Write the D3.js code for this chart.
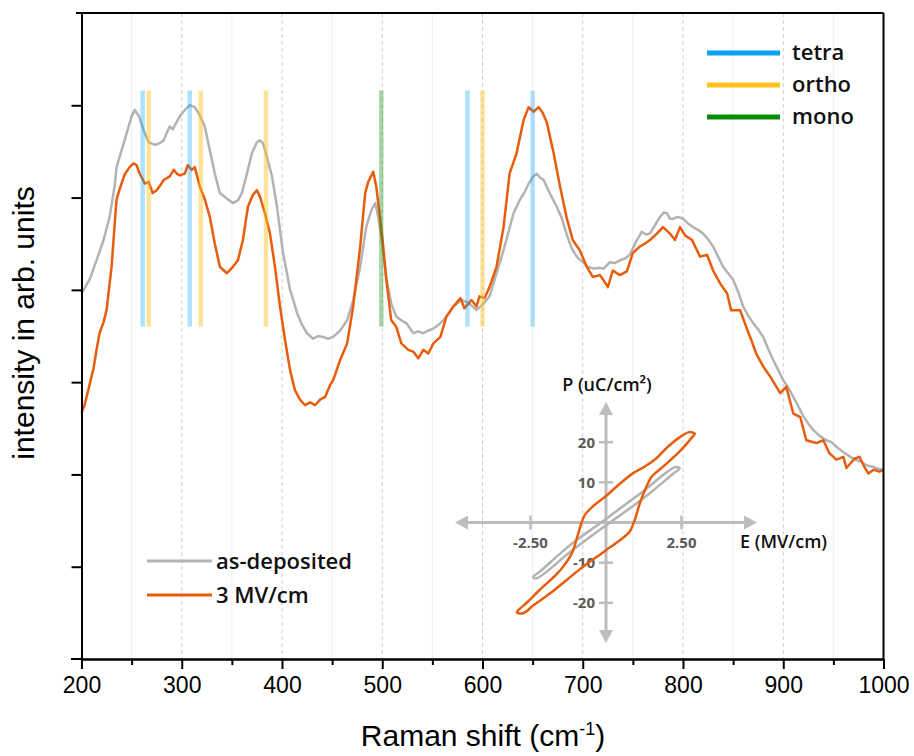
<!DOCTYPE html>
<meta charset="utf-8">
<style>
  body { margin: 0; background: #fff; }
  svg { display: block; }
  .axis path, .axis line { stroke: #000; stroke-width: 2px; }
  .axis text { font: 23px "Liberation Sans", Arial, sans-serif; fill: #000; }
  .title { font: 30px "Liberation Sans", Arial, sans-serif; fill: #000; }
  .legend text { font: 600 22px "Open Sans", sans-serif; fill: #111; }
  .inset text { font: 700 15px "Open Sans", sans-serif; fill: #5a5a5a; }
  .inset .name { font: 600 18px "Open Sans", sans-serif; fill: #111; }
  .curve { fill: none; stroke-width: 2.5px; stroke-linejoin: round; }
</style>
<svg width="914" height="756"></svg>
<script src="https://cdn.jsdelivr.net/npm/d3@7"></script>
<script>
  // Raman spectra: [shift cm-1, intensity a.u.]
  const asDeposited = [
    [200,3.96],[208,4.11],[215,4.32],[222,4.54],[228,4.79],[233,5.12],[235,5.33],[238,5.44],[243,5.62],[247,5.77],
    [250,5.88],[253,5.95],[257,5.89],[262,5.73],[267,5.60],[273,5.57],[278,5.59],[282,5.62],[285,5.70],[288,5.77],
    [291,5.74],[295,5.82],[298,5.88],[303,5.95],[308,6.00],[313,5.98],[318,5.89],[323,5.77],[328,5.51],[333,5.26],
    [338,5.05],[345,4.99],[351,4.94],[356,4.97],[360,5.05],[365,5.26],[370,5.48],[375,5.60],[378,5.62],[381,5.59],
    [385,5.44],[390,5.23],[395,4.90],[398,4.65],[401,4.40],[405,4.18],[408,4.00],[411,3.90],[415,3.75],[420,3.62],
    [425,3.53],[431,3.47],[436,3.50],[441,3.49],[446,3.47],[451,3.49],[458,3.56],[465,3.67],[471,3.89],[478,4.25],
    [484,4.68],[489,4.86],[493,4.94],[496,4.79],[499,4.58],[504,4.14],[509,3.85],[514,3.71],[519,3.67],[524,3.64],
    [531,3.53],[536,3.55],[541,3.53],[546,3.56],[551,3.58],[556,3.62],[561,3.67],[566,3.74],[571,3.82],[579,3.89],
    [584,3.87],[588,3.84],[594,3.78],[601,3.85],[607,3.93],[614,4.18],[621,4.43],[626,4.63],[631,4.83],[637,4.97],
    [642,5.06],[646,5.15],[650,5.22],[654,5.26],[657,5.22],[661,5.19],[667,5.05],[674,4.90],[679,4.78],[684,4.60],
    [689,4.45],[694,4.36],[700,4.30],[705,4.25],[711,4.23],[716,4.24],[721,4.23],[727,4.30],[732,4.29],[737,4.32],
    [742,4.34],[747,4.38],[753,4.52],[759,4.63],[763,4.60],[767,4.61],[772,4.70],[777,4.79],[781,4.84],[784,4.83],
    [787,4.77],[790,4.77],[795,4.79],[800,4.77],[805,4.72],[810,4.68],[815,4.65],[820,4.61],[825,4.55],[830,4.47],
    [835,4.36],[840,4.25],[845,4.18],[850,4.11],[855,3.98],[860,3.82],[865,3.72],[870,3.64],[875,3.57],[880,3.49],
    [885,3.36],[890,3.24],[895,3.13],[900,3.02],[905,2.94],[910,2.84],[915,2.74],[920,2.63],[925,2.55],[930,2.48],
    [936,2.42],[943,2.37],[948,2.35],[953,2.30],[960,2.24],[967,2.19],[972,2.16],[977,2.14],[983,2.10],[990,2.08],
    [995,2.06],[1000,2.05]
  ];
  const poled3MV = [
    [200,2.67],[203,2.75],[208,2.97],[212,3.15],[215,3.35],[218,3.53],[222,3.65],[225,3.78],[230,4.25],[233,4.70],
    [235,4.98],[238,5.09],[243,5.25],[248,5.33],[252,5.37],[255,5.35],[258,5.26],[261,5.20],[263,5.15],[267,5.17],
    [271,5.05],[275,5.08],[279,5.14],[282,5.19],[285,5.21],[288,5.23],[292,5.30],[295,5.26],[298,5.24],[303,5.26],
    [306,5.35],[310,5.30],[313,5.33],[318,5.12],[323,4.98],[328,4.79],[333,4.50],[338,4.25],[345,4.18],[351,4.25],
    [356,4.32],[361,4.54],[366,4.90],[371,5.03],[375,5.08],[378,5.01],[383,4.83],[388,4.61],[393,4.25],[398,3.82],
    [403,3.46],[408,3.13],[413,2.91],[418,2.81],[423,2.75],[428,2.78],[433,2.75],[438,2.81],[443,2.84],[448,2.97],
    [451,3.02],[458,3.24],[465,3.42],[471,3.82],[478,4.47],[483,5.05],[486,5.17],[491,5.28],[494,5.12],[498,4.76],
    [501,4.47],[504,4.11],[509,3.67],[514,3.60],[519,3.42],[526,3.35],[531,3.33],[536,3.26],[541,3.35],[546,3.31],
    [551,3.42],[558,3.49],[564,3.71],[571,3.82],[578,3.91],[582,3.80],[589,3.89],[594,3.82],[597,3.93],[602,3.91],
    [607,4.03],[614,4.25],[621,4.68],[627,5.26],[634,5.48],[641,5.84],[646,5.98],[651,5.93],[656,5.98],[660,5.92],
    [664,5.82],[671,5.48],[677,5.14],[684,4.78],[690,4.54],[697,4.43],[704,4.25],[710,4.14],[717,4.16],[721,4.10],
    [725,4.03],[730,4.21],[737,4.16],[744,4.20],[750,4.40],[757,4.47],[762,4.50],[767,4.54],[774,4.61],[780,4.68],
    [787,4.61],[792,4.54],[797,4.68],[802,4.59],[809,4.54],[817,4.36],[824,4.38],[830,4.21],[837,4.07],[844,3.96],
    [848,3.78],[857,3.78],[863,3.60],[868,3.46],[873,3.31],[880,3.17],[887,3.06],[897,2.88],[903,2.95],[910,2.66],
    [917,2.62],[923,2.37],[933,2.34],[940,2.37],[946,2.23],[953,2.16],[960,2.19],[963,2.07],[971,2.17],[976,2.19],
    [981,2.08],[985,2.01],[990,2.05],[996,2.03],[1000,2.05]
  ];

  // phase reference positions (cm-1)
  const tetraPos = [261, 308, 585, 650];
  const orthoPos = [267, 319, 384, 600];
  const monoPos = [499];
  const markerSpan = [3.6, 6.16];

  const xTicks = [200, 300, 400, 500, 600, 700, 800, 900, 1000];
  const xMinorTicks = [250, 350, 450, 550, 650, 750, 850, 950];
  const yTicks = [1, 2, 3, 4, 5, 6];

  // P-E hysteresis loops: [E MV/cm, P uC/cm2]
  const loopAsDep = [
    [2.44,13.5],[2.3,13.8],[1.2,7.6],[0,0.9],[-1.2,-5.7],[-2.2,-12.3],[-2.42,-13.6],
    [-2.3,-13.9],[-1.2,-7.4],[0,-0.7],[1.2,5.8],[2.2,12.0]
  ];
  const loop3MV = [
    [2.94,22.1],[2.75,22.5],[2.4,21.0],[2.0,18.5],[1.67,16.0],[1.3,14.0],[0.9,12.3],[0.45,9.6],[0,6.6],
    [-0.42,4.1],[-0.7,1.9],[-0.82,-0.3],[-0.95,-3.5],[-1.12,-7.5],[-1.35,-10.3],[-1.65,-13.0],[-2.2,-16.8],
    [-2.6,-19.8],[-2.9,-21.8],[-2.95,-22.4],[-2.75,-22.6],[-2.4,-20.6],[-1.86,-17.7],[-1.3,-14.3],[-0.76,-11.0],
    [-0.35,-8.8],[0,-6.9],[0.46,-4.4],[0.78,-2.3],[0.95,0.6],[1.12,4.8],[1.34,8.9],[1.51,11.4],[1.89,13.9],
    [2.44,17.7],[2.85,21.2]
  ];
  const pTicks = [-20, -10, 10, 20];
  const eTicks = [-2.5, 2.5];

  const colors = { gray: "#b3b3b3", orange: "#e85d0c", tetra: "#05a3f5", ortho: "#ffc21c", mono: "#0a8c0a" };

  const svg = d3.select("svg");
  const x = d3.scaleLinear([200, 1000], [81.5, 883.5]);
  const y = d3.scaleLinear([0, 7], [659, 13]);

  // grid
  svg.append("g").selectAll("line").data(xMinorTicks).join("line")
    .attr("x1", d => x(d)).attr("x2", d => x(d)).attr("y1", y(7)).attr("y2", y(0))
    .attr("stroke", "#eeeeee").attr("stroke-width", 1);
  svg.append("g").selectAll("line").data(xTicks.slice(1, -1)).join("line")
    .attr("x1", d => x(d)).attr("x2", d => x(d)).attr("y1", y(7)).attr("y2", y(0))
    .attr("stroke", "#cfcfcf").attr("stroke-width", 1).attr("stroke-dasharray", "4,3");

  // spectra
  const line = d3.line().x(d => x(d[0])).y(d => y(d[1]));
  svg.append("path").datum(asDeposited).attr("class", "curve").attr("stroke", colors.gray).attr("d", line);
  svg.append("path").datum(poled3MV).attr("class", "curve").attr("stroke", colors.orange).attr("d", line);

  // phase markers
  const markers = [
    ...tetraPos.map(p => ({ p, c: colors.tetra, o: 0.32 })),
    ...orthoPos.map(p => ({ p, c: colors.ortho, o: 0.45 })),
    ...monoPos.map(p => ({ p, c: colors.mono, o: 0.35 }))
  ];
  svg.append("g").selectAll("line").data(markers).join("line")
    .attr("x1", d => x(d.p)).attr("x2", d => x(d.p))
    .attr("y1", y(markerSpan[1])).attr("y2", y(markerSpan[0]))
    .attr("stroke", d => d.c).attr("stroke-opacity", d => d.o).attr("stroke-width", 4.5);

  // axes
  svg.append("g").attr("class", "axis").attr("transform", "translate(0," + y(0) + ")")
    .call(d3.axisBottom(x).tickValues(xMinorTicks).tickSize(6).tickSizeOuter(0).tickFormat(""));
  svg.append("g").attr("class", "axis").attr("transform", "translate(0," + y(0) + ")")
    .call(d3.axisBottom(x).tickValues(xTicks).tickSize(10).tickSizeOuter(0).tickPadding(8).tickFormat(d3.format("d")));
  svg.append("g").attr("class", "axis").attr("transform", "translate(" + x(200) + ",0)")
    .call(d3.axisLeft(y).tickValues(yTicks).tickSize(10).tickSizeOuter(0).tickFormat(""));
  // frame
  const frame = svg.append("g").attr("stroke", "#000").attr("stroke-width", 2);
  frame.append("line").attr("x1", 76).attr("x2", x(1000)).attr("y1", y(7)).attr("y2", y(7));
  frame.append("line").attr("x1", x(1000)).attr("x2", x(1000)).attr("y1", y(7)).attr("y2", y(0));
  frame.append("line").attr("x1", 71).attr("x2", x(200)).attr("y1", y(0)).attr("y2", y(0));

  svg.append("text").attr("class", "title").attr("x", 483).attr("y", 746).attr("text-anchor", "middle")
    .html('Raman shift (cm<tspan dy="-11" font-size="18">-1</tspan><tspan dy="11">)</tspan>');
  svg.append("text").attr("class", "title").attr("text-anchor", "middle")
    .attr("transform", "translate(34,323) rotate(-90)").text("intensity in arb. units");

  // phase legend
  const phaseLeg = svg.append("g").attr("class", "legend");
  [["tetra", colors.tetra], ["ortho", colors.ortho], ["mono", colors.mono]].forEach((d, i) => {
    const yy = 53 + i * 32;
    phaseLeg.append("line").attr("x1", 707).attr("x2", 780).attr("y1", yy).attr("y2", yy)
      .attr("stroke", d[1]).attr("stroke-width", 5);
    phaseLeg.append("text").attr("x", 792).attr("y", yy + 7).text(d[0]);
  });

  // series legend
  const serLeg = svg.append("g").attr("class", "legend");
  [["as-deposited", colors.gray], ["3 MV/cm", colors.orange]].forEach((d, i) => {
    const yy = 561 + i * 34;
    serLeg.append("line").attr("x1", 147).attr("x2", 212).attr("y1", yy).attr("y2", yy)
      .attr("stroke", d[1]).attr("stroke-width", 3);
    serLeg.append("text").attr("x", 216).attr("y", yy + 8).text(d[0]);
  });

  // inset P-E loop
  const inset = svg.append("g").attr("class", "inset");
  const ex = d3.scaleLinear([-5, 5], [455, 757]);
  const py = d3.scaleLinear([-30, 30], [643, 402]);
  const axCol = "#bdbdbd";
  inset.append("line").attr("x1", ex(-5) + 8).attr("x2", ex(5) - 8).attr("y1", py(0)).attr("y2", py(0))
    .attr("stroke", axCol).attr("stroke-width", 3);
  inset.append("line").attr("x1", ex(0)).attr("x2", ex(0)).attr("y1", py(30) + 8).attr("y2", py(-30) - 8)
    .attr("stroke", axCol).attr("stroke-width", 3);
  const ah = 13, aw = 7;
  const arrows = [
    [[ex(5), py(0)], [ex(5) - ah, py(0) - aw], [ex(5) - ah, py(0) + aw]],
    [[ex(-5), py(0)], [ex(-5) + ah, py(0) - aw], [ex(-5) + ah, py(0) + aw]],
    [[ex(0), py(30)], [ex(0) - aw, py(30) + ah], [ex(0) + aw, py(30) + ah]],
    [[ex(0), py(-30)], [ex(0) - aw, py(-30) - ah], [ex(0) + aw, py(-30) - ah]]
  ];
  inset.selectAll("path.arrow").data(arrows).join("path").attr("class", "arrow")
    .attr("d", d => "M" + d.join("L") + "Z").attr("fill", axCol);
  inset.selectAll("line.pt").data(pTicks).join("line").attr("class", "pt")
    .attr("x1", ex(0) - 7).attr("x2", ex(0) + 7).attr("y1", d => py(d)).attr("y2", d => py(d))
    .attr("stroke", axCol).attr("stroke-width", 2.5);
  inset.selectAll("line.et").data(eTicks).join("line").attr("class", "et")
    .attr("y1", py(0) - 7).attr("y2", py(0) + 7).attr("x1", d => ex(d)).attr("x2", d => ex(d))
    .attr("stroke", axCol).attr("stroke-width", 2.5);
  inset.selectAll("text.pl").data(pTicks).join("text").attr("class", "pl")
    .attr("x", ex(0) - 11).attr("y", d => py(d) + 5.5).attr("text-anchor", "end").text(d => d);
  inset.selectAll("text.el").data(eTicks).join("text").attr("class", "el")
    .attr("x", d => ex(d)).attr("y", py(0) + 25).attr("text-anchor", "middle")
    .text(d => d.toFixed(2));

  const loopLine = d3.line().x(d => ex(d[0])).y(d => py(d[1])).curve(d3.curveCatmullRomClosed.alpha(0.5));
  inset.append("path").datum(loopAsDep).attr("fill", "none").attr("stroke", colors.gray).attr("stroke-width", 2.5).attr("d", loopLine);
  inset.append("path").datum(loop3MV).attr("fill", "none").attr("stroke", colors.orange).attr("stroke-width", 2.5).attr("d", loopLine);

  inset.append("text").attr("class", "name").attr("x", 607).attr("y", 391).attr("text-anchor", "middle")
    .text("P (uC/cm²)");
  inset.append("text").attr("class", "name").attr("x", 740).attr("y", 548).text("E (MV/cm)");
</script>
